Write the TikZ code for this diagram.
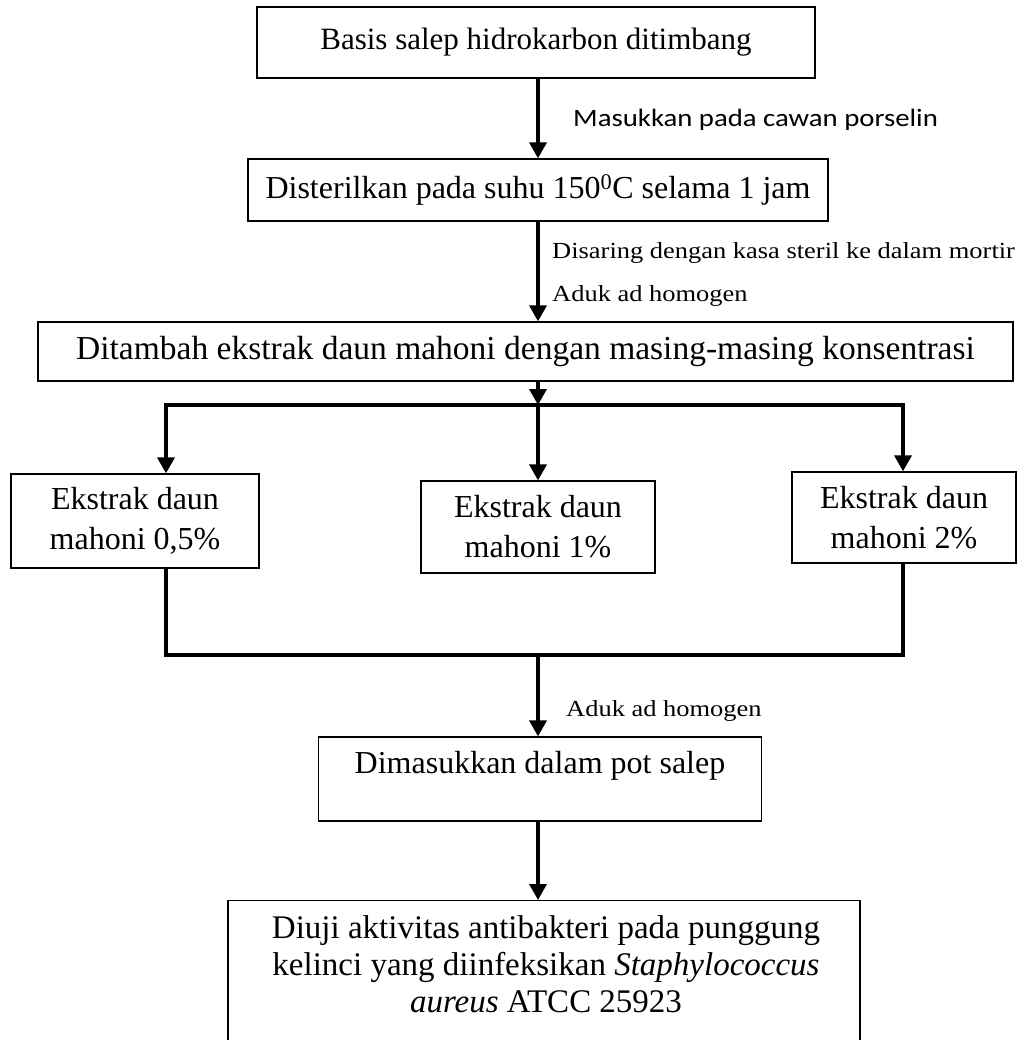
\documentclass[tikz,border=0pt]{standalone}
\usepackage{fontspec}
\setmainfont{Liberation Serif}
\newfontfamily\calfont{Carlito}
\usetikzlibrary{arrows.meta}
\begin{document}
\begin{tikzpicture}[x=1pt,y=-1pt,
  box/.style={draw, line width=1.3pt, inner sep=0pt, align=center, font=\fontsize{32}{40}\selectfont},
  conn/.style={line width=3.5pt},
  arr/.style={conn, -{Triangle[width=17pt,length=16pt]}},
  lbl/.style={anchor=west, inner sep=0pt, font=\fontsize{23}{28}\selectfont, xscale=1.15}]
\clip (0,0) rectangle (1024,1040);
\fill[white] (0,0) rectangle (1024,1040);
% boxes
\node[box, font=\fontsize{31}{38}\selectfont, minimum width=558pt, minimum height=71pt] (b1) at (536,42.5) {Basis salep hidrokarbon ditimbang};
\node[box, minimum width=580pt, minimum height=62pt] (b2) at (538,190) {Disterilkan pada suhu 150\textsuperscript{0}C selama 1 jam};
\node[box, font=\fontsize{33.5}{40}\selectfont, minimum width=975pt, minimum height=59pt] (b3) at (525.5,351.5) {Ditambah ekstrak daun mahoni dengan masing-masing konsentrasi};
\node[box, minimum width=248pt, minimum height=94pt] (b4) at (135,521) {Ekstrak daun\\mahoni 0,5\%};
\node[box, minimum width=234pt, minimum height=92pt] (b5) at (538,527) {Ekstrak daun\\mahoni 1\%};
\node[box, minimum width=224pt, minimum height=91pt] (b6) at (904,517.5) {Ekstrak daun\\mahoni 2\%};
\node[box, minimum width=443pt, minimum height=84pt] (b7) at (540,779) {};
\node[box, draw=none] (t7) at (540,766) {Dimasukkan dalam pot salep};
\node[box, minimum width=632pt, minimum height=170pt, anchor=north] (b8) at (544,900) {};
\node[box, draw=none, font=\fontsize{33}{37}\selectfont] (t8) at (546,964) {Diuji aktivitas antibakteri pada punggung\\kelinci yang diinfeksikan \textit{Staphylococcus}\\\textit{aureus} ATCC 25923};
% labels
\node[lbl, font=\calfont\fontsize{25}{28}\selectfont] (l1) at (573,120) {Masukkan pada cawan porselin};
\node[lbl] (l2) at (552,253) {Disaring dengan kasa steril ke dalam mortir};
\node[lbl] (l3) at (552,296) {Aduk ad homogen};
\node[lbl] (l4) at (566,711) {Aduk ad homogen};
% junctions
\coordinate (jl) at (166,405);
\coordinate (jm) at (538,405);
\coordinate (jr) at (903,405);
\coordinate (kl) at (166,655);
\coordinate (km) at (538,655);
\coordinate (kr) at (903,655);
% connectors
\draw[arr] (b1.south -| jm) -- (jm |- b2.north);
\draw[arr] (b2.south -| jm) -- (jm |- b3.north);
\draw[arr] (b3.south -| jm) -- (jm);
\draw[arr] (jm) -- (jl) -- (jl |- b4.north);
\draw[arr] (jm) -- (jr) -- (jr |- b6.north);
\draw[arr] (jm) -- (b5.north);
\draw[conn] (b4.south -| kl) -- (kl) -- (kr) -- (b6.south -| kr);
\draw[arr] (km) -- (km |- b7.north);
\draw[arr] (b7.south -| km) -- (km |- b8.north);
\end{tikzpicture}
\end{document}
